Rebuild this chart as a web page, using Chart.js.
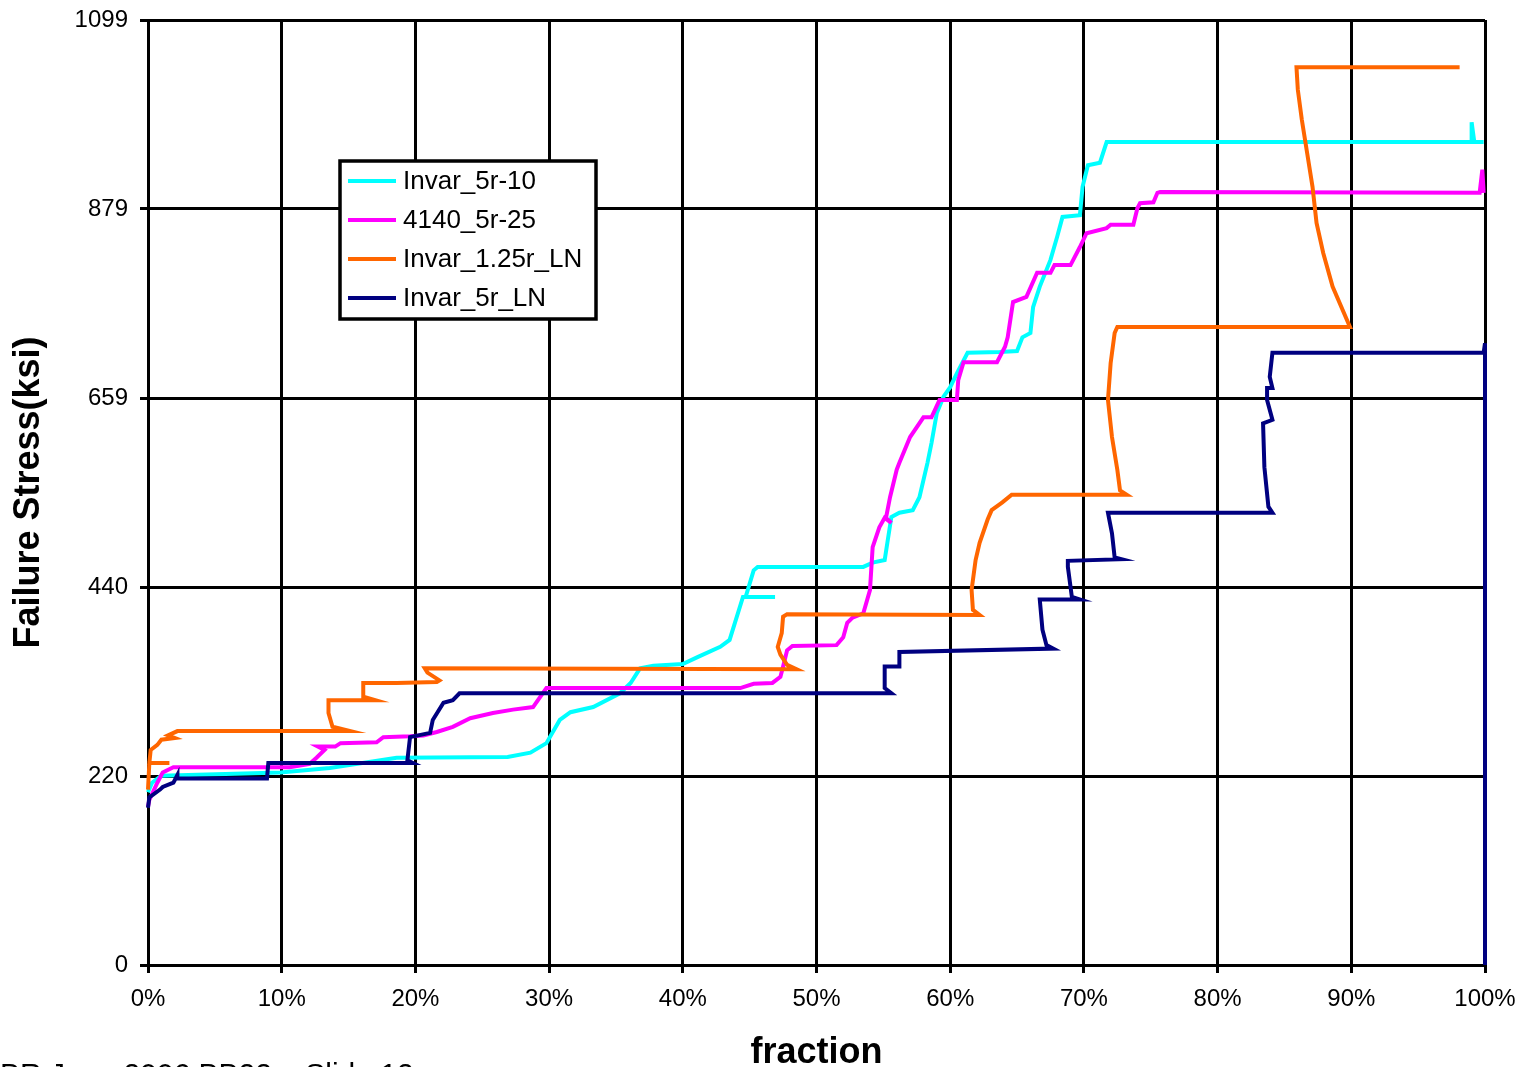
<!DOCTYPE html>
<html>
<head>
<meta charset="utf-8">
<script src="https://cdn.jsdelivr.net/npm/chart.js@4.4.1/dist/chart.umd.min.js"></script>
<style>
  html, body { margin: 0; padding: 0; background: #fff; }
  canvas { display: block; }
</style>
</head>
<body>
<canvas id="stressChart" width="1530" height="1067"></canvas>
<script>
// values: x = fraction (%), y = failure stress (ksi)
const seriesNames = ["Invar_5r-10", "4140_5r-25", "Invar_1.25r_LN", "Invar_5r_LN"];

const cyanX = [0, 0.3, 1.0, 9.9, 13.6, 18.6, 26.9, 28.6, 29.8, 30.8, 31.6, 33.3, 35.3, 36.1, 36.8, 37.8, 40.0, 41.1, 42.8, 43.5, 44.5, 46.9, 44.7, 45.3, 45.6, 53.5, 54.2, 55.1, 55.3, 55.6, 56.2, 57.2, 57.7, 58.3, 58.6, 59.0, 59.5, 60.0, 60.5, 61.3, 63.7, 65.0, 65.4, 66.0, 66.2, 66.7, 67.5, 68.0, 68.4, 69.7, 69.9, 70.3, 71.2, 71.7, 99.0, 99.0, 99.2, 99.9];
const cyanY = [201, 212, 220, 224, 229, 241, 242, 247, 258, 285, 294, 300, 316, 328, 345, 348, 350, 358, 370, 378, 428, 428, 428, 459, 463, 463, 468, 471, 491, 521, 526, 529, 544, 584, 607, 642, 661, 672, 688, 712, 713, 714, 730, 735, 765, 789, 820, 847, 870, 872, 905, 930, 933, 957, 957, 980, 957, 957];

const magentaX = [0, 0.1, 0.7, 1.1, 1.9, 10.6, 12.1, 12.6, 13.2, 12.7, 14.0, 14.4, 17.1, 17.6, 19.6, 20.6, 21.6, 22.8, 24.1, 25.8, 27.3, 28.8, 29.8, 44.3, 45.3, 46.7, 47.3, 47.5, 47.8, 48.2, 51.5, 52.0, 52.3, 52.7, 53.5, 54.0, 54.2, 54.7, 55.1, 55.6, 55.2, 55.5, 56.0, 56.2, 57.0, 58.0, 58.6, 59.2, 60.5, 60.6, 61.0, 63.5, 64.1, 64.3, 64.7, 65.7, 66.5, 67.5, 67.8, 69.0, 69.7, 70.2, 71.7, 72.0, 73.7, 74.0, 74.2, 75.2, 75.5, 75.7, 99.6, 99.8, 99.9];
const magentaY = [184, 192, 212, 224, 230, 230, 234, 241, 250, 254, 254, 258, 259, 265, 266, 267, 271, 277, 287, 293, 297, 300, 322, 322, 327, 328, 335, 347, 366, 371, 372, 381, 398, 404, 409, 436, 486, 509, 520, 514, 520, 544, 576, 584, 614, 637, 637, 657, 657, 680, 701, 701, 719, 730, 771, 777, 805, 805, 814, 814, 835, 851, 857, 861, 861, 880, 886, 887, 898, 899, 898, 925, 898];

const orangeX = [0, 0.1, 1.6, 0.1, 0.2, 0.7, 1.0, 2.0, 1.5, 2.2, 15.1, 13.8, 13.5, 13.5, 17.0, 16.1, 16.1, 18.6, 21.6, 21.8, 20.9, 20.7, 48.5, 47.8, 47.3, 47.1, 47.4, 47.5, 47.8, 62.2, 61.7, 61.6, 61.9, 62.2, 62.8, 63.1, 63.9, 64.6, 73.2, 72.7, 72.5, 72.1, 71.8, 72.0, 72.3, 72.5, 89.9, 88.6, 87.9, 87.4, 87.1, 86.7, 86.3, 86.0, 85.9, 98.1];
const orangeY = [204, 235, 235, 235, 250, 256, 262, 264, 267, 272, 272, 277, 293, 308, 308, 312, 328, 328, 329, 331, 340, 345, 344, 349, 361, 370, 386, 405, 408, 407, 413, 436, 471, 491, 518, 529, 538, 547, 547, 552, 576, 614, 657, 700, 735, 742, 742, 789, 828, 863, 905, 944, 983, 1018, 1044, 1044];

const navyX = [0, 0.1, 0.9, 1.1, 1.9, 2.2, 2.2, 8.9, 9.0, 19.8, 19.4, 19.6, 21.1, 21.3, 22.1, 22.8, 23.3, 55.6, 55.1, 55.1, 56.2, 56.2, 67.7, 67.2, 66.9, 66.7, 69.7, 69.1, 68.8, 68.8, 72.8, 72.3, 72.1, 71.8, 84.1, 83.8, 83.5, 83.4, 84.1, 83.7, 83.7, 84.1, 83.9, 84.1, 99.9, 100, 100];
const navyY = [183, 195, 204, 207, 212, 221, 217, 217, 235, 235, 238, 265, 270, 285, 305, 308, 316, 316, 322, 347, 347, 364, 368, 372, 390, 425, 425, 428, 463, 470, 472, 474, 502, 526, 526, 533, 579, 630, 634, 657, 671, 671, 684, 712, 712, 723, 0];

const xTicks = [0, 10, 20, 30, 40, 50, 60, 70, 80, 90, 100];
const yTicks = [0, 219.8, 439.6, 659.4, 879.2, 1099];
const yTickLabels = ["0", "220", "440", "659", "879", "1099"];

const colors = ["#00FFFF", "#FF00FF", "#FF6600", "#000080"];
const FONT = "'Liberation Sans', Arial, sans-serif";

function pairs(xs, ys) {
  return xs.map((x, i) => ({ x: x, y: ys[i] }));
}

const allSeries = [pairs(cyanX, cyanY), pairs(magentaX, magentaY), pairs(orangeX, orangeY), pairs(navyX, navyY)];

// legend box drawn inside the plot, like the original
const boxLegend = {
  id: "boxLegend",
  afterDatasetsDraw(chart) {
    const ctx = chart.ctx;
    const left = 340, top = 161, width = 256, height = 158;
    ctx.save();
    ctx.fillStyle = "#fff";
    ctx.fillRect(left, top, width, height);
    ctx.lineWidth = 3.5;
    ctx.strokeStyle = "#000";
    ctx.strokeRect(left, top, width, height);
    const rows = [181, 220, 259, 298];
    ctx.font = "26px " + FONT;
    ctx.textBaseline = "middle";
    chart.data.datasets.forEach((ds, i) => {
      ctx.strokeStyle = ds.borderColor;
      ctx.lineWidth = 4;
      ctx.beginPath();
      ctx.moveTo(348, rows[i]);
      ctx.lineTo(396, rows[i]);
      ctx.stroke();
      ctx.fillStyle = "#000";
      ctx.fillText(ds.label, 403, rows[i] + 1);
    });
    ctx.restore();
  },
  afterDraw(chart) {
    const ctx = chart.ctx;
    ctx.save();
    ctx.fillStyle = "#000";
    ctx.font = "30px " + FONT;
    ctx.textBaseline = "alphabetic";
    ctx.fillText("BR June 2006 BB22 \u2013 Slide 12", 0, 1084);
    ctx.restore();
  }
};

new Chart(document.getElementById("stressChart"), {
  type: "scatter",
  data: {
    datasets: allSeries.map((pts, i) => ({
      label: seriesNames[i],
      data: pts,
      showLine: true,
      borderColor: colors[i],
      backgroundColor: colors[i],
      borderWidth: 4,
      pointRadius: 0,
      tension: 0,
      clip: 4,
      order: 4 - i
    }))
  },
  options: {
    responsive: false,
    animation: false,
    devicePixelRatio: 1,
    layout: { padding: { left: 0, right: 45, top: 20, bottom: 0 } },
    plugins: {
      legend: { display: false },
      tooltip: { enabled: false }
    },
    scales: {
      x: {
        type: "linear",
        min: 0,
        max: 100,
        afterFit: s => { s.height = 102; },
        afterBuildTicks: s => { s.ticks = xTicks.map(v => ({ value: v })); },
        ticks: {
          color: "#000",
          font: { family: FONT, size: 24 },
          padding: 12,
          maxRotation: 0,
          callback: v => v + "%"
        },
        grid: { color: "#000", lineWidth: 3, tickLength: 8 },
        border: { color: "#000", width: 3 },
        title: {
          display: true,
          text: "fraction",
          color: "#000",
          font: { family: FONT, size: 36, weight: "bold", lineHeight: 0.75 },
          padding: 0
        }
      },
      y: {
        type: "linear",
        min: 0,
        max: 1099,
        afterFit: s => { s.width = 148; s.paddingTop = 0; s.paddingBottom = 0; },
        afterBuildTicks: s => { s.ticks = yTicks.map(v => ({ value: v })); },
        ticks: {
          color: "#000",
          font: { family: FONT, size: 24 },
          padding: 12,
          callback: (v, i) => yTickLabels[i]
        },
        grid: { color: "#000", lineWidth: 3, tickLength: 8 },
        border: { color: "#000", width: 3 },
        title: {
          display: true,
          text: "Failure Stress(ksi)",
          color: "#000",
          font: { family: FONT, size: 36, weight: "bold", lineHeight: 1.2 },
          padding: { top: 7, bottom: 0 }
        }
      }
    }
  },
  plugins: [boxLegend]
});
</script>
</body>
</html>
